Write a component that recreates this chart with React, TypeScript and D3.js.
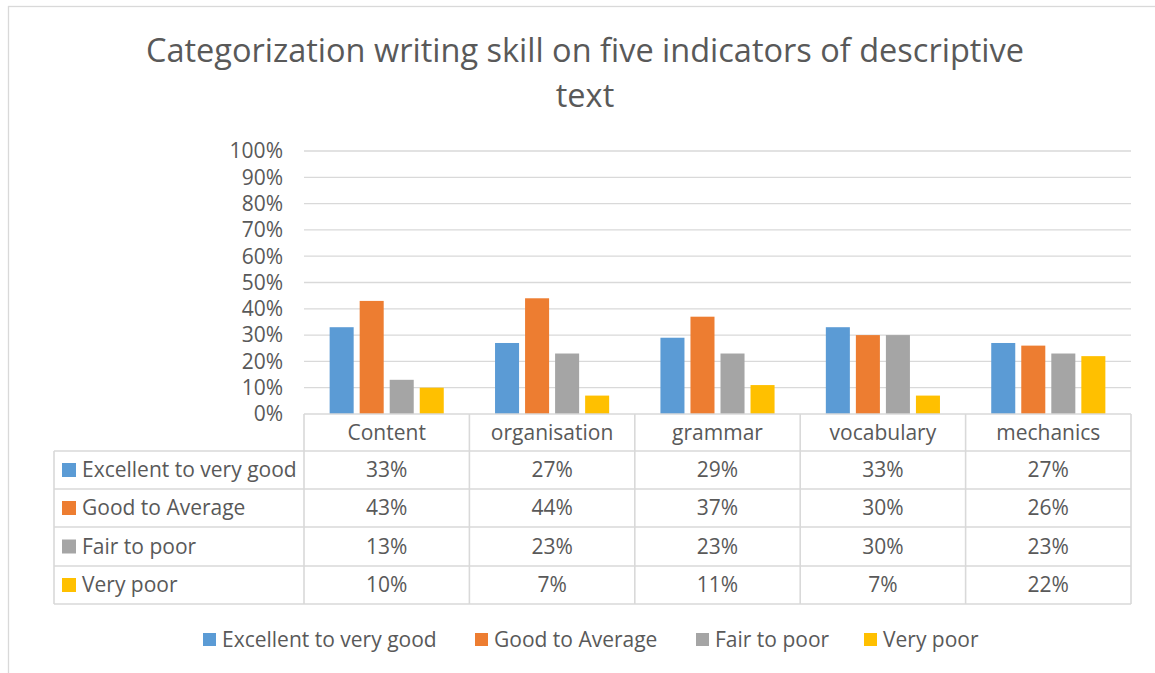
import React, { useEffect, useRef } from 'react';
import * as d3 from 'd3';

const categories = ['Content', 'organisation', 'grammar', 'vocabulary', 'mechanics'];
const seriesNames = ['Excellent to very good', 'Good to Average', 'Fair to poor', 'Very poor'];
const excellent = [33, 27, 29, 33, 27];
const goodAvg = [43, 44, 37, 30, 26];
const fairPoor = [13, 23, 23, 30, 23];
const veryPoor = [10, 7, 11, 7, 22];
const yTicks = [0, 10, 20, 30, 40, 50, 60, 70, 80, 90, 100];
const colors = ['#5b9bd5', '#ed7d31', '#a5a5a5', '#ffc000'];

const FONT = '"Open Sans", Lato, sans-serif';
const TXT = '#595959';
const LINE = '#d9d9d9';
const FS = 21;

export default function App() {
  const ref = useRef<SVGSVGElement>(null);

  useEffect(() => {
    const svg = d3.select(ref.current);
    svg.selectAll('*').remove();
    const values = [excellent, goodAvg, fairPoor, veryPoor];

    const left = 304, right = 1131, top = 151, bottom = 414;
    const tableLeft = 54;
    const rowTops = [414, 451, 489, 527, 566, 604];

    // outer chart border
    svg.append('rect')
      .attr('x', 8.5).attr('y', 6.5).attr('width', 1160).attr('height', 680)
      .attr('fill', 'white').attr('stroke', LINE).attr('stroke-width', 1.3);

    // title
    const title = svg.append('text')
      .attr('text-anchor', 'middle').attr('font-family', FONT)
      .attr('font-size', 32.5).attr('fill', TXT);
    title.append('tspan').attr('x', 585).attr('y', 62)
      .text('Categorization writing skill on five indicators of descriptive');
    title.append('tspan').attr('x', 585).attr('y', 107).text('text');

    const y = d3.scaleLinear().domain([0, 100]).range([bottom, top]);
    const x0 = d3.scaleBand().domain(categories).range([left, right])
      .paddingInner(0.31).paddingOuter(0.155);
    const x1 = d3.scaleBand().domain(seriesNames).range([0, x0.bandwidth()]).paddingInner(0.2);
    const xCol = d3.scaleBand().domain(categories).range([left, right]);

    // gridlines
    svg.append('g').selectAll('line').data(yTicks.slice(1)).join('line')
      .attr('x1', left).attr('x2', right)
      .attr('y1', d => y(d)).attr('y2', d => y(d))
      .attr('stroke', LINE).attr('stroke-width', 1.3);

    // y tick labels
    svg.append('g').selectAll('text').data(yTicks).join('text')
      .attr('x', 283).attr('y', d => y(d)).attr('dy', '0.35em')
      .attr('text-anchor', 'end').attr('font-family', FONT).attr('font-size', FS)
      .attr('fill', TXT).text(d => `${d}%`);

    // bars
    seriesNames.forEach((s, si) => {
      svg.append('g').selectAll('rect').data(values[si]).join('rect')
        .attr('x', (d, i) => (x0(categories[i]) as number) + (x1(s) as number))
        .attr('y', d => y(d))
        .attr('width', x1.bandwidth())
        .attr('height', d => bottom - y(d))
        .attr('fill', colors[si]);
    });

    // data table
    const tbl = svg.append('g').attr('stroke', LINE).attr('stroke-width', 1.6).attr('fill', 'none');
    tbl.append('line').attr('x1', left).attr('x2', right).attr('y1', rowTops[0]).attr('y2', rowTops[0]);
    rowTops.slice(1).forEach(r => {
      tbl.append('line').attr('x1', tableLeft).attr('x2', right).attr('y1', r).attr('y2', r);
    });
    tbl.append('line').attr('x1', tableLeft).attr('x2', tableLeft).attr('y1', rowTops[1]).attr('y2', rowTops[5]);
    [...categories.map(c => xCol(c) as number), right].forEach(xx => {
      tbl.append('line').attr('x1', xx).attr('x2', xx).attr('y1', rowTops[0]).attr('y2', rowTops[5]);
    });

    // category headers
    svg.append('g').selectAll('text').data(categories).join('text')
      .attr('x', d => (xCol(d) as number) + xCol.bandwidth() / 2)
      .attr('y', (rowTops[0] + rowTops[1]) / 2).attr('dy', '0.35em')
      .attr('text-anchor', 'middle').attr('font-family', FONT).attr('font-size', FS)
      .attr('fill', TXT).text(d => d);

    // rows
    seriesNames.forEach((s, si) => {
      const cy = (rowTops[si + 1] + rowTops[si + 2]) / 2;
      const row = svg.append('g');
      row.append('rect').attr('x', 62).attr('y', cy - 7).attr('width', 14).attr('height', 14)
        .attr('fill', colors[si]);
      row.append('text').attr('x', 82).attr('y', cy).attr('dy', '0.35em')
        .attr('font-family', FONT).attr('font-size', FS).attr('fill', TXT).text(s);
      row.selectAll('text.v').data(values[si]).join('text')
        .attr('class', 'v')
        .attr('x', (d, i) => (xCol(categories[i]) as number) + xCol.bandwidth() / 2)
        .attr('y', cy).attr('dy', '0.35em')
        .attr('text-anchor', 'middle').attr('font-family', FONT).attr('font-size', FS)
        .attr('fill', TXT).text(d => `${d}%`);
    });

    // legend
    const legendX = [203, 475, 696, 864];
    const lg = svg.append('g');
    seriesNames.forEach((s, si) => {
      lg.append('rect').attr('x', legendX[si]).attr('y', 633).attr('width', 13).attr('height', 13)
        .attr('fill', colors[si]);
      lg.append('text').attr('x', legendX[si] + 19).attr('y', 640).attr('dy', '0.35em')
        .attr('font-family', FONT).attr('font-size', FS).attr('fill', TXT).text(s);
    });
  }, []);

  return (
    <svg ref={ref} width={1155} height={673}
      style={{ position: 'absolute', left: 0, top: 0, background: 'white' }} />
  );
}
